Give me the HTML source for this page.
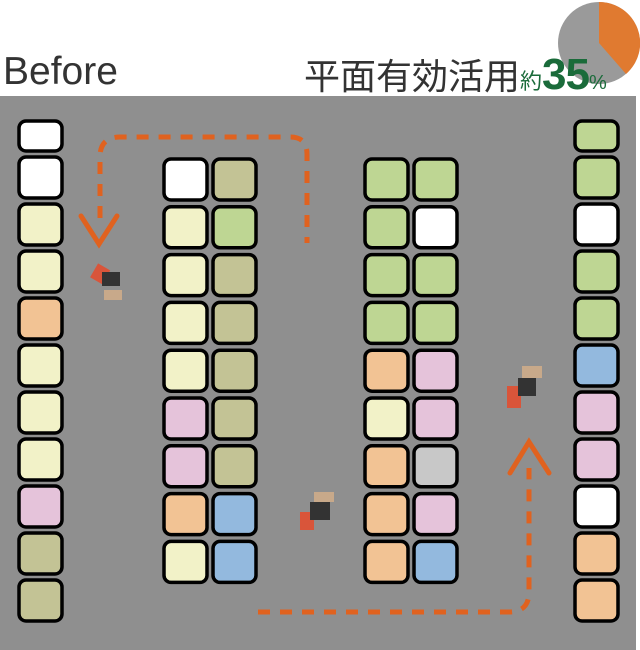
<!DOCTYPE html>
<html><head><meta charset="utf-8"><style>
body{margin:0;width:640px;height:650px;overflow:hidden;background:#fff;font-family:"Liberation Sans","Noto Sans CJK JP",sans-serif;position:relative}
.t{position:absolute;white-space:nowrap}
</style></head><body>
<div class="t" style="left:3px;top:50px;font-size:39px;color:#333;">Before</div>
<svg style="position:absolute;left:0;top:0" width="640" height="650">
<circle cx="599" cy="43" r="41" fill="#9a9a9a"/>
<path d="M599 43 L599 2 A41 41 0 0 1 626 74 Z" fill="#e07a30"/>
<rect x="0" y="96" width="636" height="554" fill="#8f8f8f"/>
<g id="cells" stroke="#000" stroke-width="3.5"></g>
<g fill="none" stroke="#e0621f" stroke-width="5" stroke-dasharray="12 10">
<path d="M100 218 L100 157 Q100 137 120 137 L290 137 Q307 137 307 154 L307 243"/>
<path d="M258 612 L509 612 Q529 612 529 592 L529 468"/>
</g>
<g fill="none" stroke="#e0621f" stroke-width="5" stroke-linecap="round">
<path d="M81 216 L99 244 L117 216"/>
<path d="M510 473 L529 442 L549 473"/>
</g>
<g>
<rect x="92" y="266" width="14" height="16" fill="#d9553a" transform="rotate(30 100 276)"/>
<rect x="102" y="272" width="18" height="14" fill="#333"/>
<rect x="104" y="290" width="18" height="10" fill="#c8a98a"/>
<rect x="300" y="512" width="14" height="18" fill="#d9553a"/>
<rect x="310" y="502" width="20" height="18" fill="#333"/>
<rect x="314" y="492" width="20" height="10" fill="#c8a98a"/>
<rect x="507" y="386" width="14" height="22" fill="#d9553a"/>
<rect x="518" y="378" width="18" height="18" fill="#333"/>
<rect x="522" y="366" width="20" height="12" fill="#c8a98a"/>
</g>
</svg>
<div class="t" style="left:304px;top:48px;font-size:36px;color:#333;">平面有効活用<span style="font-size:22px;color:#1a6b3a">約</span><span style="font-size:44px;font-weight:bold;color:#1a6b3a;letter-spacing:-1px">35</span><span style="font-size:20px;color:#1a6b3a">%</span></div>
<script>
var C={w:"#ffffff",c:"#f2f2c8",o:"#c3c395",g:"#bed693",p:"#f2c394",k:"#e5c3da",b:"#93b9de",y:"#c8c8c8"};
var g=document.getElementById("cells"),s="";
function cell(x,y,h,c){s+='<rect x="'+x+'" y="'+y+'" width="43" height="'+h+'" rx="7" fill="'+C[c]+'"/>';}
function col(x,list){cell(x,121,30,list[0]);for(var i=1;i<list.length;i++)cell(x,157+(i-1)*47,41,list[i]);}
col(19,"wwccpccckoo".split(""));
col(575,"ggwggbkkwpp".split(""));
var A="wcccckkpc",B="ogooooobb",D="ggggpcppp",E="gwggkkykb";
for(var i=0;i<9;i++){var y=159+i*47.8;cell(164,y,41,A[i]);cell(213,y,41,B[i]);cell(365,y,41,D[i]);cell(414,y,41,E[i]);}
g.innerHTML=s;
</script>
</body></html>
